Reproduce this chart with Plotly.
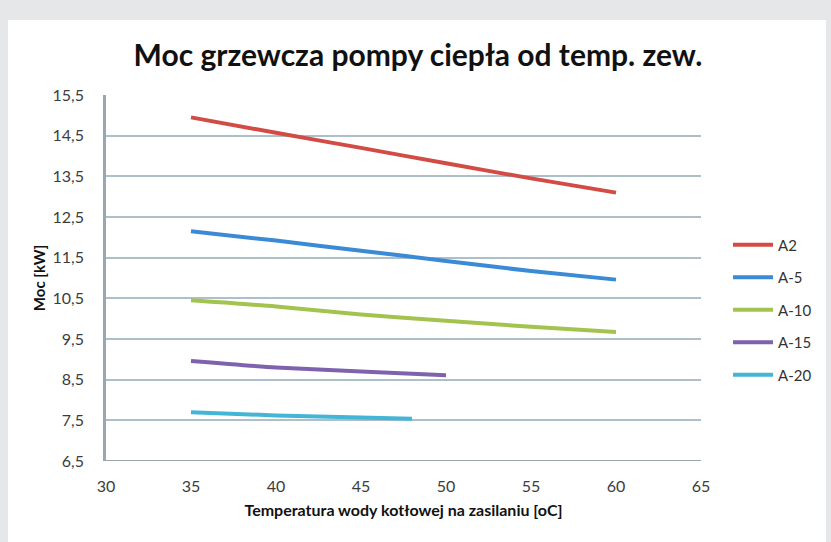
import plotly.graph_objects as go

# Data
x_a2 = [35, 40, 45, 50, 55, 60]
y_a2 = [14.95, 14.57, 14.2, 13.82, 13.45, 13.1]
x_a5 = [35, 40, 45, 50, 55, 60]
y_a5 = [12.15, 11.92, 11.67, 11.42, 11.17, 10.96]
x_a10 = [35, 40, 45, 50, 55, 60]
y_a10 = [10.45, 10.3, 10.1, 9.95, 9.8, 9.67]
x_a15 = [35, 40, 45, 50]
y_a15 = [8.96, 8.8, 8.7, 8.61]
x_a20 = [35, 40, 45, 48]
y_a20 = [7.7, 7.62, 7.57, 7.54]

series_names = ["A2", "A-5", "A-10", "A-15", "A-20"]
series_x = [x_a2, x_a5, x_a10, x_a15, x_a20]
series_y = [y_a2, y_a5, y_a10, y_a15, y_a20]
colors = ["#d24b45", "#3b8ad6", "#a2c44e", "#7e62ae", "#45b5d6"]

x_ticks = [30, 35, 40, 45, 50, 55, 60, 65]
y_ticks = [6.5, 7.5, 8.5, 9.5, 10.5, 11.5, 12.5, 13.5, 14.5, 15.5]

FONT = "Lato, 'Open Sans', sans-serif"

fig = go.Figure()
for i, (n, xs, ys, c) in enumerate(zip(series_names, series_x, series_y, colors)):
    fig.add_trace(go.Scatter(x=xs, y=ys, mode="lines", name=n,
                             line=dict(color=c, width=4, shape="spline", smoothing=0.6),
                             legendgroup=n))

W, H = 831, 542
L, R, T, B = 106, 701, 95, 461
pw, ph = R - L, B - T

def px(xp):
    return (xp - L) / pw

def py(yp):
    return (B - yp) / ph

fig.add_shape(type="rect", xref="paper", yref="paper",
              x0=px(8), x1=px(826), y0=py(542), y1=py(20),
              fillcolor="white", line=dict(width=0), layer="below")

fig.update_layout(
    width=W, height=H,
    margin=dict(l=L, r=W - R, t=T, b=H - B, pad=0),
    paper_bgcolor="#e6e7e8",
    plot_bgcolor="white",
    separators=", ",
    font=dict(family=FONT, color="#333333", size=15),
    title=dict(text="<b>Moc grzewcza pompy ciepła od temp. zew.</b>",
               font=dict(family=FONT, size=30, color="#111111"),
               x=px(418), xanchor="center", xref="paper",
               y=1 - 55 / H, yanchor="middle"),
    xaxis=dict(range=[30, 65], tickvals=x_ticks, showgrid=False, zeroline=False,
               showline=False, ticks="", ticklabelstandoff=14,
               tickfont=dict(size=16, color="#3c3c3c"),
               title=dict(text="<b>Temperatura wody kotłowej na zasilaniu [oC]</b>",
                          font=dict(size=16, color="#111111"), standoff=10)),
    yaxis=dict(range=[6.5, 15.5], tickvals=y_ticks, tickformat=".1f",
               showgrid=True, gridcolor="#adc0ca", gridwidth=1.5, zeroline=False,
               showline=True, linecolor="#9aa7ae", linewidth=2.5, ticks="",
               ticklabelstandoff=16,
               tickfont=dict(size=16, color="#3c3c3c"),
               title=dict(text="<b>Moc [kW]</b>", font=dict(size=15, color="#111111"), standoff=4)),
    legend=dict(x=px(728), xanchor="left", y=py(310), yanchor="middle",
                font=dict(size=15, color="#333333"), tracegroupgap=10,
                itemwidth=40,
                bgcolor="rgba(0,0,0,0)"),
    showlegend=True,
)

fig.add_shape(type="line", xref="paper", yref="y", x0=0, x1=1, y0=6.5, y1=6.5,
              line=dict(color="#9aa7ae", width=2))

fig.write_html("out.html", config={"displayModeBar": False},
               post_script="document.body.style.margin='0px';")
